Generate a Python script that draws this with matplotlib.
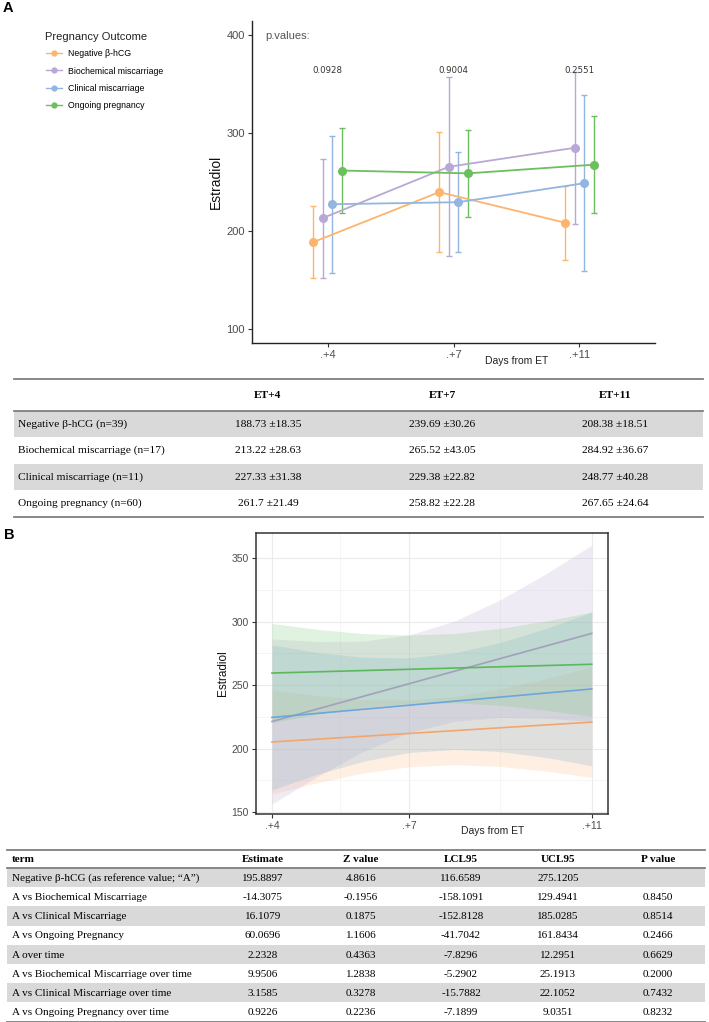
import matplotlib
matplotlib.use('Agg')
import matplotlib.pyplot as plt
from matplotlib.lines import Line2D
from matplotlib.patches import Rectangle
from matplotlib.ticker import FixedLocator
import numpy as np

plt.rcParams['font.family'] = ['Liberation Sans', 'DejaVu Sans']

# ---------------- panel A: means with 95% CI ----------------
days = ['.+4', '.+7', '.+11']
outcomes = ['Negative β-hCG', 'Biochemical miscarriage',
            'Clinical miscarriage', 'Ongoing pregnancy']
colors_a = ['#FDB46C', '#B9A8D6', '#93B6E0', '#6CBF5E']

neg_mean = [188.73, 239.69, 208.38]
bio_mean = [213.22, 265.52, 284.92]
cli_mean = [227.33, 229.38, 248.77]
ong_mean = [261.7, 258.82, 267.65]

neg_sd = [18.35, 30.26, 18.51]
bio_sd = [28.63, 43.05, 36.67]
cli_sd = [31.38, 22.82, 40.28]
ong_sd = [21.49, 22.28, 24.64]

neg_lo = [151.6, 178.4, 170.9]
neg_hi = [225.9, 301.0, 245.9]
bio_lo = [152.5, 174.3, 207.2]
bio_hi = [273.9, 356.8, 362.7]
cli_lo = [157.4, 178.5, 159.0]
cli_hi = [297.3, 280.2, 338.5]
ong_lo = [218.7, 214.2, 218.3]
ong_hi = [304.7, 303.4, 317.0]

p_values = ['0.0928', '0.9004', '0.2551']

# ---------------- panel B: linear fits with confidence bands ----------------
colors_line_b = ['#F3A56C', '#A3A0BC', '#6AA7DA', '#5CB85C']
colors_fill_b = ['#FDC086', '#BEAED4', '#80B1D3', '#7FC97F']
fit_days = [4, 11]
neg_fit = [205.3, 220.9]
bio_fit = [221.4, 290.7]
cli_fit = [224.6, 247.0]
ong_fit = [259.5, 266.4]

band_days = [4, 5, 6, 7, 8, 9, 10, 11]
neg_band_lo = [164.3, 173.3, 180.9, 185.8, 187.4, 186.0, 182.4, 177.4]
neg_band_hi = [246.3, 241.7, 238.7, 238.2, 241.0, 247.0, 255.0, 264.4]
bio_band_lo = [156.4, 178.3, 197.8, 212.7, 221.6, 224.6, 224.0, 221.3]
bio_band_hi = [286.4, 284.3, 284.6, 289.5, 300.4, 317.2, 337.6, 360.1]
cli_band_lo = [167.6, 180.0, 190.1, 197.0, 199.4, 197.7, 193.1, 186.6]
cli_band_hi = [281.6, 275.6, 271.9, 271.4, 275.4, 283.5, 294.5, 307.4]
ong_band_lo = [220.5, 227.2, 232.5, 235.6, 236.1, 234.1, 230.3, 225.3]
ong_band_hi = [298.5, 293.8, 290.5, 289.4, 290.7, 294.7, 300.5, 307.5]

# ---------------- tables ----------------
t1_header = ['ET+4', 'ET+7', 'ET+11']
t1_rows = ['Negative β-hCG (n=39)', 'Biochemical miscarriage (n=17)',
           'Clinical miscarriage (n=11)', 'Ongoing pregnancy (n=60)']

t2_header = ['term', 'Estimate', 'Z value', 'LCL95', 'UCL95', 'P value']
t2_terms = ['Negative β-hCG (as reference value; \u201cA\u201d)',
            'A vs Biochemical Miscarriage', 'A vs Clinical Miscarriage',
            'A vs Ongoing Pregnancy', 'A over time',
            'A vs Biochemical Miscarriage over time',
            'A vs Clinical Miscarriage over time',
            'A vs Ongoing Pregnancy over time']
t2_estimate = ['195.8897', '-14.3075', '16.1079', '60.0696', '2.2328', '9.9506', '3.1585', '0.9226']
t2_z = ['4.8616', '-0.1956', '0.1875', '1.1606', '0.4363', '1.2838', '0.3278', '0.2236']
t2_lcl = ['116.6589', '-158.1091', '-152.8128', '-41.7042', '-7.8296', '-5.2902', '-15.7882', '-7.1899']
t2_ucl = ['275.1205', '129.4941', '185.0285', '161.8434', '12.2951', '25.1913', '22.1052', '9.0351']
t2_p = ['', '0.8450', '0.8514', '0.2466', '0.6629', '0.2000', '0.7432', '0.8232']

W, H = 709, 1022
fig = plt.figure(figsize=(W / 100, H / 100), dpi=100)

# ======== panel A ========
axA = fig.add_axes([252 / W, 1 - 343 / H, 403 / W, 322 / H])
means = [neg_mean, bio_mean, cli_mean, ong_mean]
lows = [neg_lo, bio_lo, cli_lo, ong_lo]
highs = [neg_hi, bio_hi, cli_hi, ong_hi]
xpos = np.arange(1, len(days) + 1)
dodge = [-0.1125, -0.0375, 0.0375, 0.1125]
for k in range(4):
    m = np.array(means[k])
    yerr = [m - np.array(lows[k]), np.array(highs[k]) - m]
    axA.errorbar(xpos + dodge[k], m, yerr=yerr, fmt='-o', color=colors_a[k],
                 ms=5.5, lw=1.3, elinewidth=1.0, capsize=2.2, capthick=1.0)
for j, p in enumerate(p_values):
    axA.text(xpos[j], 364, p, ha='center', va='center', fontsize=6.2,
             color='#333333', family='DejaVu Sans')
axA.text(0.503, 399, 'p.values:', ha='left', va='center', fontsize=8,
         color='#555555')
axA.set_xlim(0.4, 3.6)
axA.set_ylim(85.7, 414.3)
axA.set_xticks(xpos)
axA.set_xticklabels(days)
axA.set_yticks([100, 200, 300, 400])
for s in ['top', 'right']:
    axA.spines[s].set_visible(False)
for s in ['left', 'bottom']:
    axA.spines[s].set_color('#222222')
    axA.spines[s].set_linewidth(1.0)
axA.tick_params(length=3, width=0.8, color='#333333', labelsize=8,
                labelcolor='#4D4D4D', pad=2)
axA.set_ylabel('Estradiol', fontsize=10, color='#111111', labelpad=3)
axA.set_xlabel('Days from ET', fontsize=7.5, color='#222222')
axA.xaxis.set_label_coords(0.657, -0.056)
axA.xaxis.label.set_va('center')

handles = [Line2D([0], [0], color=c, marker='o', ms=3.5, lw=1.0) for c in colors_a]
fig.text(45 / W, 1 - 37.5 / H, 'Pregnancy Outcome', fontsize=8, ha='left',
         va='center', color='#222222')
leg = fig.legend(handles, outcomes, loc='upper left',
                 bbox_to_anchor=(46 / W, 1 - 49.5 / H), frameon=False,
                 fontsize=6.3, borderpad=0, borderaxespad=0,
                 handlelength=1.8, handletextpad=0.7, labelspacing=0.92)
fig.text(8 / W, 1 - 8 / H, 'A', fontsize=10.5, fontweight='bold',
         ha='center', va='center')

# ======== panel B ========
axB = fig.add_axes([256 / W, 1 - 814.3 / H, 351.7 / W, 281.6 / H])
band_lo = [neg_band_lo, bio_band_lo, cli_band_lo, ong_band_lo]
band_hi = [neg_band_hi, bio_band_hi, cli_band_hi, ong_band_hi]
fits = [neg_fit, bio_fit, cli_fit, ong_fit]
for k in range(4):
    axB.fill_between(band_days, band_lo[k], band_hi[k], color=colors_fill_b[k],
                     alpha=0.24, lw=0, zorder=2)
for k in range(4):
    axB.plot(fit_days, fits[k], color=colors_line_b[k], lw=1.2, zorder=3)
xb = [4, 7, 11]
yb = [150, 200, 250, 300, 350]
axB.set_xlim(3.65, 11.35)
axB.set_ylim(148.4, 369.9)
axB.set_xticks(xb)
axB.set_xticklabels(days)
axB.set_yticks(yb)
axB.xaxis.set_minor_locator(FixedLocator([(a + b) / 2 for a, b in zip(xb[:-1], xb[1:])]))
axB.yaxis.set_minor_locator(FixedLocator([(a + b) / 2 for a, b in zip(yb[:-1], yb[1:])]))
axB.grid(which='major', color='#EBEBEB', lw=0.8, zorder=0)
axB.grid(which='minor', color='#F2F2F2', lw=0.5, zorder=0)
axB.set_axisbelow(True)
axB.tick_params(which='minor', length=0)
axB.tick_params(which='major', length=3, width=0.8, color='#333333',
                labelsize=7.5, labelcolor='#4D4D4D', pad=2)
for s in axB.spines.values():
    s.set_color('#333333')
    s.set_linewidth(1.1)
axB.set_ylabel('Estradiol', fontsize=8.5, color='#111111', labelpad=2)
axB.set_xlabel('Days from ET', fontsize=7.5, color='#222222')
axB.xaxis.set_label_coords(0.674, -0.059)
axB.xaxis.label.set_va('center')
fig.text(9 / W, 1 - 535 / H, 'B', fontsize=10.5, fontweight='bold',
         ha='center', va='center')

# ======== tables (drawn in pixel coordinates) ========
axT = fig.add_axes([0, 0, 1, 1], zorder=-1)
axT.set_xlim(0, W)
axT.set_ylim(H, 0)
axT.axis('off')
gray = '#D9D9D9'
rule = '#7F7F7F'
serif = ['Liberation Serif', 'DejaVu Serif']

# table 1
top, head_h, row_h, left, right = 379.3, 31.7, 26.4, 13.6, 703
col_x = [268, 442, 615]
sds = [neg_sd, bio_sd, cli_sd, ong_sd]
for i, lab in enumerate(t1_rows):
    y0 = top + head_h + i * row_h
    if i % 2 == 0:
        axT.add_patch(Rectangle((left, y0), right - left, row_h, color=gray, lw=0))
    yc = y0 + row_h / 2
    axT.text(18, yc, lab, ha='left', va='center', fontsize=8.2, family=serif)
    for j in range(3):
        axT.text(col_x[j], yc, f'{means[i][j]} \u00b1{sds[i][j]}', ha='center',
                 va='center', fontsize=8.2, family=serif)
for j, h in enumerate(t1_header):
    axT.text(col_x[j], top + head_h / 2, h, ha='center', va='center',
             fontsize=8.2, fontweight='bold', family=serif)
bottom = top + head_h + len(t1_rows) * row_h
for y in [top, top + head_h, bottom]:
    axT.plot([left, right], [y, y], color=rule, lw=1.3)

# table 2
top, head_h, row_h, left, right = 850, 18, 19.2, 7.3, 705
col_x = [12, 263, 361, 461, 558, 658]
cols = [t2_estimate, t2_z, t2_lcl, t2_ucl, t2_p]
for i, term in enumerate(t2_terms):
    y0 = top + head_h + i * row_h
    if i % 2 == 0:
        axT.add_patch(Rectangle((left, y0), right - left, row_h, color=gray, lw=0))
    yc = y0 + row_h / 2 + 0.8
    axT.text(col_x[0], yc, term, ha='left', va='center', fontsize=8, family=serif)
    for j, col in enumerate(cols):
        axT.text(col_x[j + 1], yc, col[i], ha='center', va='center',
                 fontsize=8, family=serif)
for j, h in enumerate(t2_header):
    axT.text(col_x[j], top + head_h / 2 + 0.8, h, ha='left' if j == 0 else 'center',
             va='center', fontsize=8, fontweight='bold', family=serif)
bottom = top + head_h + len(t2_terms) * row_h
for y in [top, top + head_h, bottom]:
    axT.plot([left, right], [y, y], color=rule, lw=1.3)

fig.savefig('out.png', dpi=100)
